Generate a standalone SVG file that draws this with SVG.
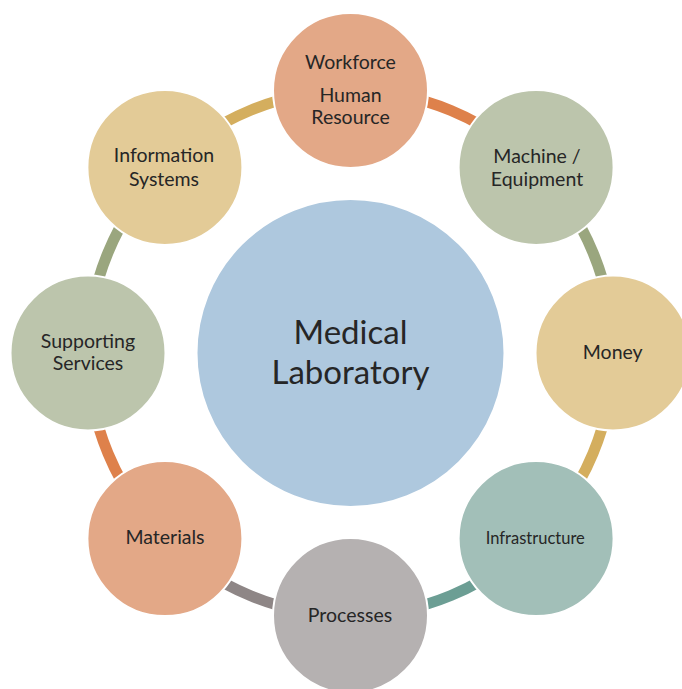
<svg xmlns="http://www.w3.org/2000/svg" width="682" height="689" viewBox="0 0 682 689">
<style>
.node{stroke:#ffffff;stroke-width:2}
.lbl{font-family:Lato,"Liberation Sans",sans-serif;font-size:19.5px;fill:#262626;text-anchor:middle}
.arc{fill:none;stroke-width:11}
</style>
<rect width="682" height="689" fill="#ffffff"/>
<g id="connectors">
<path class="arc" stroke="#DE814B" d="M350.5,90.5 A262.5,262.5 0 0 1 536.1,167.4"/>
<path class="arc" stroke="#9AA67E" d="M536.1,167.4 A262.5,262.5 0 0 1 613,353"/>
<path class="arc" stroke="#D4AE5E" d="M613,353 A262.5,262.5 0 0 1 536.1,538.6"/>
<path class="arc" stroke="#6C9E94" d="M536.1,538.6 A262.5,262.5 0 0 1 350.5,615.5"/>
<path class="arc" stroke="#8E8686" d="M350.5,615.5 A262.5,262.5 0 0 1 164.9,538.6"/>
<path class="arc" stroke="#DE814B" d="M164.9,538.6 A262.5,262.5 0 0 1 88,353"/>
<path class="arc" stroke="#9AA67E" d="M88,353 A262.5,262.5 0 0 1 164.9,167.4"/>
<path class="arc" stroke="#D4AE5E" d="M164.9,167.4 A262.5,262.5 0 0 1 350.5,90.5"/>
</g>
<g id="center">
<circle class="node" cx="350.5" cy="353" r="154" fill="#AEC8DE"/>
<text class="lbl" style="font-size:33px" x="350.5" y="344">Medical</text>
<text class="lbl" style="font-size:33px" x="350.5" y="384">Laboratory</text>
</g>
<g id="workforce">
<circle class="node" cx="350.5" cy="90.5" r="77.5" fill="#E3A887"/>
<text class="lbl" x="350.5" y="69">Workforce</text>
<text class="lbl" x="350.5" y="102">Human</text>
<text class="lbl" x="350.5" y="124">Resource</text>
</g>
<g id="machine">
<circle class="node" cx="536.1" cy="167.4" r="77.5" fill="#BCC5AC"/>
<text class="lbl" x="537" y="163">Machine /</text>
<text class="lbl" x="537" y="185.5">Equipment</text>
</g>
<g id="money">
<circle class="node" cx="613" cy="353" r="77.5" fill="#E3CB97"/>
<text class="lbl" x="612.7" y="359">Money</text>
</g>
<g id="infrastructure">
<circle class="node" cx="536.1" cy="538.6" r="77.5" fill="#A2BFB8"/>
<text class="lbl" style="font-size:16.5px" x="535.3" y="544">Infrastructure</text>
</g>
<g id="processes">
<circle class="node" cx="350.5" cy="615.5" r="77.5" fill="#B5B1B1"/>
<text class="lbl" x="350" y="621.5">Processes</text>
</g>
<g id="materials">
<circle class="node" cx="164.9" cy="538.6" r="77.5" fill="#E3A887"/>
<text class="lbl" x="165" y="544">Materials</text>
</g>
<g id="supporting">
<circle class="node" cx="88" cy="353" r="77.5" fill="#BCC5AC"/>
<text class="lbl" x="88" y="348">Supporting</text>
<text class="lbl" x="88" y="370">Services</text>
</g>
<g id="information">
<circle class="node" cx="164.9" cy="167.4" r="77.5" fill="#E3CB97"/>
<text class="lbl" x="164" y="161.5">Information</text>
<text class="lbl" x="164" y="186">Systems</text>
</g>
</svg>
